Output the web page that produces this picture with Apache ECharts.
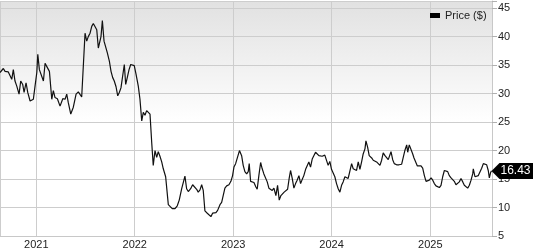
<!DOCTYPE html>
<html>
<head>
<meta charset="utf-8">
<script src="https://cdn.jsdelivr.net/npm/echarts@6/dist/echarts.min.js"></script>
<style>html,body{margin:0;padding:0;background:#fff}#c{width:533px;height:250px}</style>
</head>
<body>
<div id="c"></div>
<script>
// Dates as decimal years, prices in $
const years = [2020.632,2020.666,2020.683,2020.700,2020.716,2020.734,2020.751,2020.767,2020.784,2020.802,2020.825,2020.842,2020.862,2020.876,2020.896,2020.913,2020.937,2020.954,2020.970,2020.987,
2021.005,2021.015,2021.031,2021.051,2021.072,2021.089,2021.106,2021.133,2021.157,2021.173,2021.190,2021.214,2021.241,2021.269,2021.292,2021.309,2021.325,2021.350,2021.360,2021.376,2021.404,2021.427,2021.444,2021.461,2021.495,
2021.512,2021.528,2021.546,2021.563,2021.579,2021.597,2021.614,2021.630,2021.647,2021.657,2021.671,2021.688,2021.705,2021.721,2021.742,2021.759,2021.776,2021.792,2021.810,2021.827,2021.843,2021.860,2021.878,2021.894,2021.908,2021.924,2021.942,2021.959,2021.979,2021.995,
2022.013,2022.036,2022.053,2022.071,2022.087,2022.104,2022.121,2022.138,2022.155,2022.172,2022.188,2022.206,2022.223,2022.239,2022.256,2022.274,2022.290,2022.314,2022.341,2022.358,2022.381,2022.409,2022.432,2022.452,2022.477,2022.493,2022.510,2022.527,2022.544,2022.568,2022.588,2022.605,2022.629,2022.645,2022.663,2022.680,2022.696,2022.713,2022.737,2022.757,2022.774,2022.791,2022.808,2022.825,2022.842,2022.866,2022.883,2022.899,2022.916,2022.934,2022.957,2022.977,2022.994,
2023.008,2023.025,2023.041,2023.064,2023.086,2023.102,2023.119,2023.137,2023.153,2023.163,2023.177,2023.193,2023.211,2023.231,2023.244,2023.261,2023.279,2023.295,2023.312,2023.329,2023.346,2023.363,2023.380,2023.397,2023.414,2023.434,2023.451,2023.468,2023.485,2023.502,2023.518,2023.536,2023.553,2023.569,2023.583,2023.600,2023.617,2023.634,2023.650,2023.668,2023.685,2023.701,2023.718,2023.736,2023.752,2023.769,2023.786,2023.803,2023.820,2023.837,2023.853,2023.871,2023.888,2023.904,2023.921,2023.931,2023.949,2023.965,2023.982,2023.999,
2024.016,2024.033,2024.050,2024.067,2024.084,2024.101,2024.117,2024.135,2024.152,2024.168,2024.185,2024.203,2024.219,2024.236,2024.253,2024.270,2024.287,2024.304,2024.320,2024.338,2024.348,2024.365,2024.381,2024.406,2024.422,2024.439,2024.456,2024.473,2024.490,2024.507,2024.523,2024.541,2024.558,2024.574,2024.591,2024.602,2024.619,2024.635,2024.659,2024.683,2024.710,2024.726,2024.744,2024.761,2024.771,2024.787,2024.805,2024.822,2024.835,2024.852,2024.869,2024.886,2024.906,2024.923,2024.940,2024.957,2024.974,2024.990,
2025.008,2025.025,2025.041,2025.058,2025.076,2025.092,2025.109,2025.126,2025.143,2025.160,2025.177,2025.193,2025.211,2025.228,2025.244,2025.261,2025.279,2025.295,2025.312,2025.330,2025.346,2025.363,2025.380,2025.397,2025.414,2025.431,2025.437,2025.454,2025.472,2025.488,2025.505,2025.522,2025.539,2025.556,2025.573,2025.589,2025.600,2025.614,2025.622];
const prices = [33.7,34.4,33.9,34.2,33.8,33.5,32.5,34.2,32.2,31.3,29.9,32.2,31.6,30.2,31.9,30.2,28.7,28.4,29.0,31.3,
33.7,36.9,34.2,34.1,32.2,35.3,35.1,33.9,29.0,30.5,29.3,29.1,27.8,29.1,29.0,29.9,28.4,26.4,26.1,27.6,29.9,30.3,30.6,29.4,40.6,
39.2,40.0,40.6,41.8,42.3,42.1,41.2,38.0,37.7,40.0,42.8,39.2,39.0,37.2,35.7,33.9,32.8,32.2,31.2,29.6,30.2,31.0,30.9,35.1,31.6,32.8,34.2,35.1,35.4,34.9,
33.4,31.3,29.0,25.2,26.7,26.2,27.0,27.3,26.4,21.5,17.4,20.0,18.8,19.8,19.0,18.0,16.8,15.4,10.5,10.3,9.8,9.8,10.3,11.3,13.3,13.6,15.5,13.3,12.8,13.3,14.0,13.9,13.2,12.7,13.1,14.0,13.0,9.4,9.0,8.7,8.4,9.0,8.8,9.1,9.5,10.5,10.9,11.1,13.4,13.8,14.0,14.6,15.6,
17.1,17.7,17.5,20.0,19.1,17.4,16.3,15.9,16.3,17.7,14.6,14.5,14.4,13.6,13.2,15.6,17.9,16.8,15.9,16.2,14.5,13.4,13.3,13.0,13.4,12.1,13.9,11.3,12.1,12.3,12.7,13.0,13.2,15.1,16.5,15.1,13.4,14.2,14.8,15.6,14.2,14.9,15.6,16.7,16.9,18.0,17.1,18.5,18.8,19.7,19.4,19.1,19.2,19.0,18.8,19.2,19.4,17.4,18.1,16.7,
16.5,15.4,14.2,13.3,12.7,13.9,14.5,15.4,15.6,15.1,15.2,17.7,16.8,16.9,16.5,18.0,16.7,18.0,19.4,20.3,21.7,20.6,19.1,18.7,18.3,18.3,18.0,18.1,17.4,18.3,19.6,19.1,18.8,18.4,18.3,19.8,18.4,17.7,17.5,17.5,17.6,18.8,20.1,21.0,19.7,21.0,20.9,19.4,18.7,18.0,17.3,17.5,17.3,16.9,15.6,14.6,14.5,14.8,
15.2,14.8,14.2,13.8,13.6,13.5,13.9,15.4,16.5,16.7,16.3,15.6,15.2,15.4,14.6,14.0,13.9,14.5,15.1,14.5,13.9,13.6,13.4,13.9,14.8,15.9,16.8,15.4,15.2,15.6,15.9,16.9,17.7,17.9,17.5,16.5,15.2,16.2,16.43];
const xRange = [2020.632, 2025.627];
const yTicks = [5, 10, 15, 20, 25, 30, 35, 40, 45];
const seriesName = 'Price ($)';

function toTime(y) {
  const yr = Math.floor(y);
  const s = new Date(yr, 0, 1).getTime();
  const e = new Date(yr + 1, 0, 1).getTime();
  return s + (y - yr) * (e - s);
}
const data = years.map((y, i) => [toTime(y), prices[i]]);
const last = data[data.length - 1];
const DAY = 86400000;
const font = "'Liberation Sans', Arial, sans-serif";

const chart = echarts.init(document.getElementById('c'), null, {renderer: 'canvas'});
chart.setOption({
  animation: false,
  textStyle: {fontFamily: font},
  grid: {
    left: 0, right: 41, top: 1, bottom: 12,
    show: true, borderWidth: 0,
    backgroundColor: new echarts.graphic.LinearGradient(0, 0, 0, 1, [
      {offset: 0, color: '#e1e1e1'},
      {offset: 0.52, color: '#ffffff'},
      {offset: 1, color: '#ffffff'}
    ])
  },
  legend: {
    data: [seriesName], left: 425, top: 5,
    icon: 'rect', itemWidth: 10, itemHeight: 5, itemGap: 4,
    textStyle: {fontSize: 11, color: '#222', fontFamily: font}
  },
  xAxis: {
    type: 'time',
    min: toTime(xRange[0]), max: toTime(xRange[1]),
    minInterval: 365 * DAY, maxInterval: 366 * DAY,
    axisLine: {show: true, lineStyle: {color: '#c8c8c8', width: 1}},
    axisTick: {show: false},
    splitLine: {show: true, lineStyle: {color: '#cdcdcd', width: 1}},
    axisLabel: {
      color: '#222', fontSize: 11, margin: 3, fontFamily: font,
      showMinLabel: false, showMaxLabel: false,
      formatter: function (v) {
        const d = new Date(v);
        return (d.getMonth() === 0 && d.getDate() === 1) ? String(d.getFullYear()) : '';
      }
    }
  },
  yAxis: {
    type: 'value', position: 'right',
    min: 5, max: 46.25, interval: 5,
    axisLine: {show: true, lineStyle: {color: '#c8c8c8'}},
    axisTick: {show: true, length: 5, lineStyle: {color: '#b0b0b0'}},
    splitLine: {show: true, lineStyle: {color: '#cdcdcd', width: 1}},
    axisLabel: {
      color: '#222', fontSize: 11, margin: 6, align: 'left', fontFamily: font,
      formatter: function (v) { return yTicks.indexOf(v) >= 0 ? String(v) : ''; }
    }
  },
  series: [{
    name: seriesName, type: 'line', data: data,
    showSymbol: false, symbol: 'none',
    lineStyle: {color: '#111', width: 1.2},
    itemStyle: {color: '#000'},
    markPoint: {
      symbol: 'path://M0,8L8,0H42V16H8Z',
      symbolSize: [42, 16], symbolKeepAspect: false,
      symbolOffset: [21, 0],
      itemStyle: {color: '#000'},
      label: {
        show: true, position: 'inside', offset: [3, 0],
        color: '#fff', fontSize: 12, fontFamily: font,
        formatter: function (p) { return p.value.toFixed(2); }
      },
      data: [{coord: last, value: last[1]}]
    }
  }]
});
</script>
</body>
</html>
